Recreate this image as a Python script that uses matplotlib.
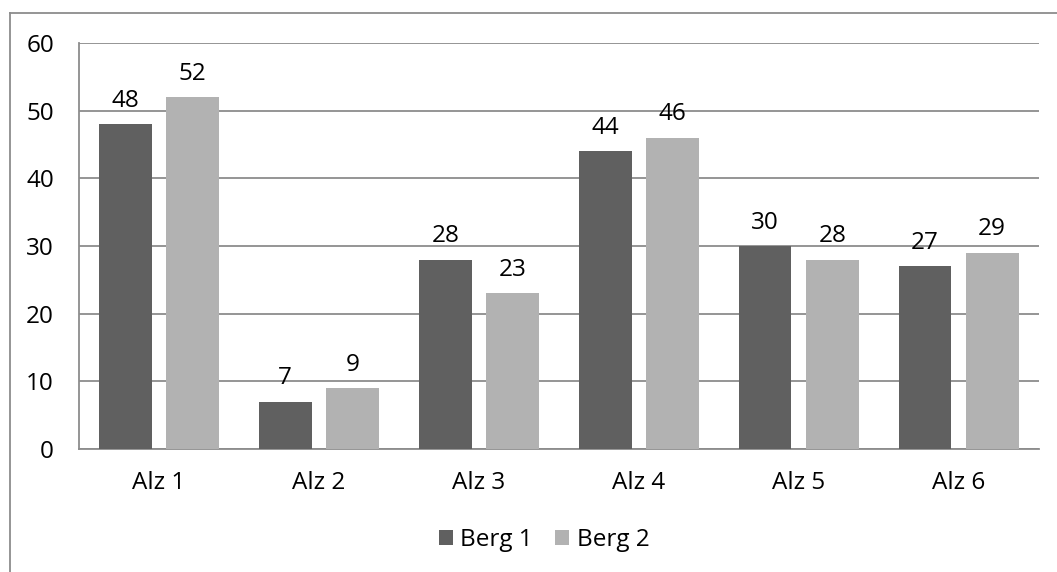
import matplotlib
matplotlib.use("Agg")
import matplotlib.pyplot as plt
from matplotlib.lines import Line2D
import numpy as np

categories = ["Alz 1", "Alz 2", "Alz 3", "Alz 4", "Alz 5", "Alz 6"]
berg1 = [48, 7, 28, 44, 30, 27]
berg2 = [52, 9, 23, 46, 28, 29]
series_names = ["Berg 1", "Berg 2"]
y_ticks = [0, 10, 20, 30, 40, 50, 60]

plt.rcParams["font.family"] = ["Open Sans", "DejaVu Sans"]
FS = 17.5
GRID = "#8c8c8c"
DARK = "#606060"
LIGHT = "#b2b2b2"

fig = plt.figure(figsize=(10.57, 5.72), dpi=100)
ax = fig.add_axes([79 / 1057, 1 - 449 / 572, (1038.5 - 79) / 1057, (449 - 43) / 572])

x = np.arange(len(categories))
w = 0.33
off = 0.21
b1 = ax.bar(x - off, berg1, width=w, color=DARK, label=series_names[0], zorder=3)
b2 = ax.bar(x + off, berg2, width=w, color=LIGHT, label=series_names[1], zorder=3)

for bars, vals in ((b1, berg1), (b2, berg2)):
    for rect, v in zip(bars, vals):
        ax.annotate(str(v), (rect.get_x() + rect.get_width() / 2, v),
                    xytext=(0, 12.5), textcoords="offset points",
                    ha="center", va="baseline", fontsize=FS, color="black")

ax.set_xlim(-0.5, len(categories) - 0.5)
ax.set_ylim(0, 60)
ax.set_yticks(y_ticks)
ax.set_xticks(x)
ax.set_xticklabels(categories)
ax.tick_params(axis="both", length=0, labelsize=FS, colors="black")
ax.tick_params(axis="y", pad=18)
ax.tick_params(axis="x", pad=16)

ax.yaxis.grid(True, color=GRID, linewidth=1.3, zorder=0)
ax.set_axisbelow(True)
for s in ("top", "right"):
    ax.spines[s].set_visible(False)
for s in ("left", "bottom"):
    ax.spines[s].set_color(GRID)
    ax.spines[s].set_linewidth(1.3)

leg = fig.legend(handles=[b1, b2], labels=series_names, loc="center",
                 bbox_to_anchor=(544 / 1057, 1 - 540 / 572), ncol=2,
                 frameon=False, fontsize=FS, handlelength=0.6, handleheight=0.6,
                 handletextpad=0.3, columnspacing=0.9)

# chart-area border (left and top edges)
fig.add_artist(Line2D([9.5 / 1057, 9.5 / 1057], [0, 1 - 13 / 572],
                      transform=fig.transFigure, color=GRID, linewidth=1.3))
fig.add_artist(Line2D([9.5 / 1057, 1], [1 - 13 / 572, 1 - 13 / 572],
                      transform=fig.transFigure, color=GRID, linewidth=1.3))

fig.savefig("out.png", dpi=100, facecolor="white")
